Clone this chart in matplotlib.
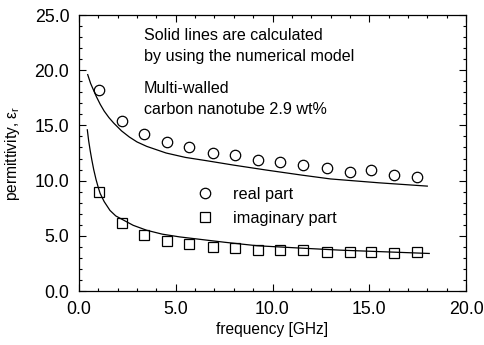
import matplotlib
matplotlib.use("Agg")
import matplotlib.pyplot as plt
from matplotlib.ticker import MultipleLocator, FormatStrFormatter

plt.rcParams['font.family'] = ['Liberation Sans', 'DejaVu Sans']

# measured data
freq = [1.03, 2.2, 3.36, 4.53, 5.7, 6.9, 8.06, 9.27, 10.4, 11.6, 12.8, 14.0, 15.1, 16.3, 17.45]
real_meas = [18.2, 15.4, 14.2, 13.5, 13.0, 12.5, 12.3, 11.9, 11.7, 11.45, 11.1, 10.8, 10.95, 10.5, 10.35]
imag_meas = [9.0, 6.2, 5.07, 4.55, 4.25, 4.0, 3.86, 3.7, 3.7, 3.7, 3.56, 3.56, 3.5, 3.45, 3.5]

# model curves
freq_real_model = [0.45, 0.6, 0.75, 0.9, 1.1, 1.3, 1.55, 1.8, 2.2, 2.6, 3.0, 3.5, 4.0, 4.5, 5.5, 6.6, 8.0, 9.7, 11.5, 13.0, 15.5, 18.0]
real_model = [19.6, 18.8, 18.2, 17.6, 16.9, 16.3, 15.7, 15.2, 14.5, 13.95, 13.5, 13.1, 12.8, 12.5, 12.1, 11.8, 11.4, 10.95, 10.5, 10.15, 9.8, 9.5]
freq_imag_model = [0.43, 0.5, 0.58, 0.66, 0.76, 0.88, 1.0, 1.09, 1.3, 1.6, 1.9, 2.29, 2.8, 3.5, 4.3, 5.2, 6.25, 7.5, 9.2, 11.3, 13.5, 15.8, 18.1]
imag_model = [14.6, 13.6, 12.7, 11.9, 11.0, 10.1, 9.35, 8.85, 8.1, 7.3, 6.8, 6.43, 5.95, 5.5, 5.15, 4.9, 4.68, 4.42, 4.1, 3.9, 3.7, 3.55, 3.4]

xticks = [0.0, 5.0, 10.0, 15.0, 20.0]
yticks = [0.0, 5.0, 10.0, 15.0, 20.0, 25.0]

fig = plt.figure(figsize=(4.84, 3.45), dpi=100)
ax = fig.add_axes([79/484, 1-291/345, (466-79)/484, (291-15)/345])

ax.plot(freq_real_model, real_model, color='black', lw=0.9)
ax.plot(freq_imag_model, imag_model, color='black', lw=0.9)
ax.plot(freq, real_meas, 'o', mfc='none', mec='black', ms=7.5, mew=0.9, label='real part')
ax.plot(freq, imag_meas, 's', mfc='none', mec='black', ms=7.5, mew=0.9, label='imaginary part')

ax.set_xlim(0, 20)
ax.set_ylim(0, 25)
ax.set_xticks(xticks)
ax.set_yticks(yticks)
ax.xaxis.set_major_formatter(FormatStrFormatter('%.1f'))
ax.yaxis.set_major_formatter(FormatStrFormatter('%.1f'))
ax.xaxis.set_minor_locator(MultipleLocator(1))
ax.yaxis.set_minor_locator(MultipleLocator(1))
ax.tick_params(which='both', direction='in', top=True, right=True, width=0.8)
ax.tick_params(which='major', length=5, labelsize=12.8, pad=7)
ax.tick_params(which='minor', length=2.5)
for s in ax.spines.values():
    s.set_linewidth(0.9)

ax.set_xlabel('frequency [GHz]', fontsize=11.2, labelpad=3)
ax.set_ylabel('permittivity, ε$_\\mathregular{r}$', fontsize=11.2, labelpad=9)

ax.text(3.35, 23.8, 'Solid lines are calculated\nby using the numerical model',
        fontsize=11.6, va='top', ha='left', linespacing=1.45)
ax.text(3.35, 19.0, 'Multi-walled\ncarbon nanotube 2.9 wt%',
        fontsize=11.6, va='top', ha='left', linespacing=1.45)

ax.legend(loc='upper left', bbox_to_anchor=(0.2836, 0.40), frameon=False,
          fontsize=11.7, handletextpad=1.1, labelspacing=0.55, handlelength=1.2,
          borderaxespad=0, borderpad=0.4)

fig.savefig('out.png', dpi=100)
